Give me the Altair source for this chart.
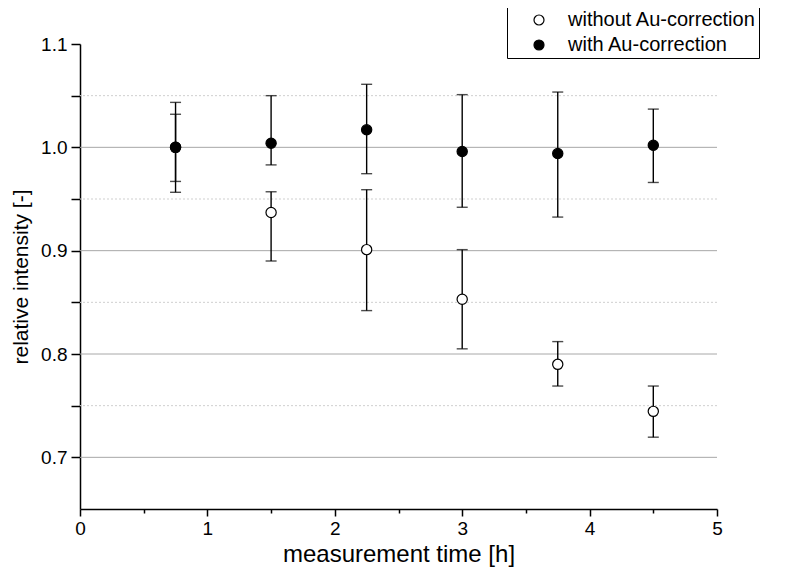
import altair as alt
import pandas as pd

# measurement times [h]
times = [0.75, 1.5, 2.25, 3.0, 3.75, 4.5]

# without Au-correction (open circles)
without_mean = [1.000, 0.937, 0.901, 0.853, 0.790, 0.7445]
without_low = [0.967, 0.890, 0.842, 0.805, 0.769, 0.7195]
without_high = [1.032, 0.957, 0.959, 0.901, 0.812, 0.769]

# with Au-correction (filled circles)
with_mean = [1.000, 1.004, 1.017, 0.996, 0.994, 1.002]
with_low = [0.9565, 0.983, 0.9745, 0.942, 0.9325, 0.966]
with_high = [1.0435, 1.050, 1.061, 1.051, 1.0535, 1.037]

series_names = ["without Au-correction", "with Au-correction"]

major_grid = [0.7, 0.8, 0.9, 1.0]
minor_grid = [0.75, 0.85, 0.95, 1.05]

x_ticks = [0, 0.5, 1, 1.5, 2, 2.5, 3, 3.5, 4, 4.5, 5]
y_ticks = [0.7, 0.75, 0.8, 0.85, 0.9, 0.95, 1.0, 1.05, 1.1]

rows = []
for k, (name, m, lo, hi) in enumerate([
    (series_names[0], without_mean, without_low, without_high),
    (series_names[1], with_mean, with_low, with_high),
]):
    for t, a, b, c in zip(times, m, lo, hi):
        rows.append({"time": t, "mean": a, "low": b, "high": c, "series": name, "draw": k})
df = pd.DataFrame(rows)

FONT = "Liberation Sans"

xscale = alt.Scale(domain=[0, 5], nice=False, zero=False)
yscale = alt.Scale(domain=[0.65, 1.1], nice=False, zero=False)

grid_major = alt.Chart(pd.DataFrame({"g": major_grid})).mark_rule(
    color="#a8a8a8", strokeWidth=1
).encode(y=alt.Y("g:Q", scale=yscale))

grid_minor = alt.Chart(pd.DataFrame({"g": minor_grid})).mark_rule(
    color="#cfcfcf", strokeWidth=1, strokeDash=[2, 2]
).encode(y=alt.Y("g:Q", scale=yscale))

base = alt.Chart(df)

xenc = alt.X(
    "time:Q",
    scale=xscale,
    title="measurement time [h]",
    axis=alt.Axis(
        values=x_ticks,
        labelExpr="datum.value % 1 == 0 ? format(datum.value, 'd') : ''",
        tickSize={"condition": {"test": "datum.value % 1 != 0", "value": 4}, "value": 7},
        grid=False,
        labelFlush=False,
        titlePadding=4,
        labelPadding=3,
    ),
)

yaxis = alt.Axis(
    values=y_ticks,
    labelExpr="(round(datum.value * 100) % 10 == 0) ? format(datum.value, '.1f') : ''",
    tickSize=9,
    grid=False,
    labelFlush=False,
    titlePadding=9,
    labelPadding=4,
)

bars = base.mark_rule(color="black", strokeWidth=1.4).encode(
    x=xenc,
    y=alt.Y("low:Q", scale=yscale, title="relative intensity [-]", axis=yaxis),
    y2="high:Q",
)
caps_low = base.mark_tick(color="black", thickness=1.4, size=11, orient="horizontal").encode(
    x="time:Q", y=alt.Y("low:Q", scale=yscale)
)
caps_high = base.mark_tick(color="black", thickness=1.4, size=11, orient="horizontal").encode(
    x="time:Q", y=alt.Y("high:Q", scale=yscale)
)
points = base.mark_circle(stroke="black", strokeWidth=1.2, opacity=1, size=105).encode(
    x="time:Q",
    y=alt.Y("mean:Q", scale=yscale),
    fill=alt.Fill(
        "series:N",
        scale=alt.Scale(domain=series_names, range=["white", "black"]),
        legend=alt.Legend(
            title=None,
            orient="none",
            legendX=427,
            legendY=-37,
            padding=3,
            rowPadding=5,
            symbolType="circle",
            symbolSize=100,
            symbolStrokeColor="black",
            symbolStrokeWidth=1.2,
            symbolOffset=19,
            labelOffset=19,
            labelFontSize=20,
            labelFont=FONT,
            labelColor="black",
            labelLimit=400,
            strokeColor="black",
            fillColor="white",
        ),
    ),
    order=alt.Order("draw:Q"),
)

chart = (
    alt.layer(grid_major, grid_minor, bars, caps_low, caps_high, points)
    .properties(
        width=637,
        height=465,
        autosize=alt.AutoSizeParams(type="none"),
        padding={"left": 72, "top": 36, "right": 63, "bottom": 64},
    )
    .configure_view(stroke=None)
    .configure_axis(
        domainColor="black",
        domainWidth=1.5,
        tickColor="black",
        tickWidth=1.5,
        labelFont=FONT,
        labelFontSize=19,
        labelColor="black",
        titleFont=FONT,
        titleFontWeight="normal",
        titleColor="black",
    )
    .configure_axisX(titleFontSize=24)
    .configure_axisY(titleFontSize=21)
)

chart.save("out.html", embed_options={"renderer": "svg", "actions": False})
